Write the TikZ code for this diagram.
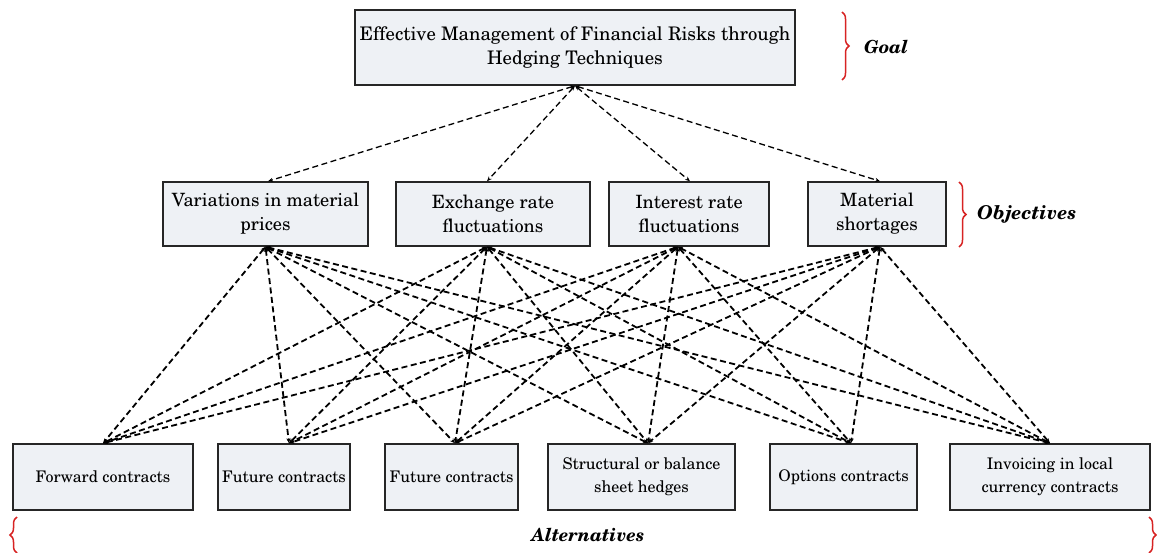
\documentclass[tikz,border=0pt]{standalone}
\usepackage[T1]{fontenc}
\usepackage{newcent}
\usetikzlibrary{arrows.meta,decorations.pathreplacing}
\definecolor{boxfill}{RGB}{238,241,245}
\definecolor{bracered}{RGB}{215,35,35}
\begin{document}
\begin{tikzpicture}[x=1pt,y=-1pt,
  box/.style={draw=black!85, line width=1.5pt, fill=boxfill, inner sep=0pt, align=center},
  goalbox/.style={box, minimum height=75pt, font=\fontsize{18.7}{24}\selectfont},
  objbox/.style={box, minimum height=64pt, font=\fontsize{18.3}{24}\selectfont},
  altbox/.style={box, minimum height=66pt, font=\fontsize{16}{23}\selectfont},
  tip/.tip={Stealth[length=5pt,width=4pt]},
  link/.style={dash pattern=on 6pt off 3.5pt, line width=1.8pt, tip-tip},
  toplink/.style={dash pattern=on 6pt off 3.5pt, line width=1.3pt, tip-tip},
  redbrace/.style={draw=bracered, line width=1.5pt, decorate, decoration={brace, amplitude=7pt}},
  tag/.style={font=\bfseries\itshape, inner sep=0pt}]
\useasboundingbox (0,0) rectangle (1157,553);

\node[goalbox, minimum width=440pt] (g) at (575,47.5) {Effective Management of Financial Risks through\\Hedging Techniques};

\node[objbox, minimum width=205pt] (o1) at (265.5,214) {Variations in material\\prices};
\node[objbox, minimum width=194pt] (o2) at (493,214) {Exchange rate\\fluctuations};
\node[objbox, minimum width=160pt] (o3) at (689,214) {Interest rate\\fluctuations};
\node[objbox, minimum width=138pt] (o4) at (877,214) {Material\\shortages};

\node[altbox, minimum width=180pt] (a1) at (103,477) {Forward contracts};
\node[altbox, minimum width=132pt] (a2) at (284,477) {Future contracts};
\node[altbox, minimum width=133pt] (a3) at (451.5,477) {Future contracts};
\node[altbox, minimum width=187pt] (a4) at (641.5,477) {Structural or balance\\sheet hedges};
\node[altbox, minimum width=147pt] (a5) at (843.5,477) {Options contracts};
\node[altbox, minimum width=200pt] (a6) at (1050,477) {Invoicing in local\\currency contracts};

\foreach \o/\ox in {o1/2.5,o2/-6,o3/1,o4/3}
  \draw[toplink] (g.south) -- ([xshift=\ox pt]\o.north);

\foreach \o/\ox in {o1/0,o2/-6,o3/-11,o4/3}
  \foreach \a/\ax in {a1/0,a2/5,a3/3.5,a4/6.5,a5/7.5,a6/0}
    \draw[link] ([xshift=\ox pt]\o.south) -- ([xshift=\ax pt]\a.north);

\coordinate (gb1) at (842,12);
\coordinate (gb2) at (842,80);
\draw[redbrace] (gb1) -- (gb2);
\node[tag, anchor=west, font=\fontsize{18}{20}\selectfont\bfseries\itshape] (gl) at (864,47) {Goal};

\coordinate (ob1) at (959,182);
\coordinate (ob2) at (959,247);
\draw[redbrace] (ob1) -- (ob2);
\node[tag, anchor=west, font=\fontsize{19}{20}\selectfont\bfseries\itshape] (ol) at (977,214) {Objectives};

\coordinate (lb1) at (17,553);
\coordinate (lb2) at (17,517);
\draw[redbrace] (lb1) -- (lb2);
\coordinate (rb1) at (1149,517);
\coordinate (rb2) at (1149,553);
\draw[redbrace] (rb1) -- (rb2);
\node[tag, font=\fontsize{18}{20}\selectfont\bfseries\itshape] (al) at (588,535) {Alternatives};
\end{tikzpicture}
\end{document}
